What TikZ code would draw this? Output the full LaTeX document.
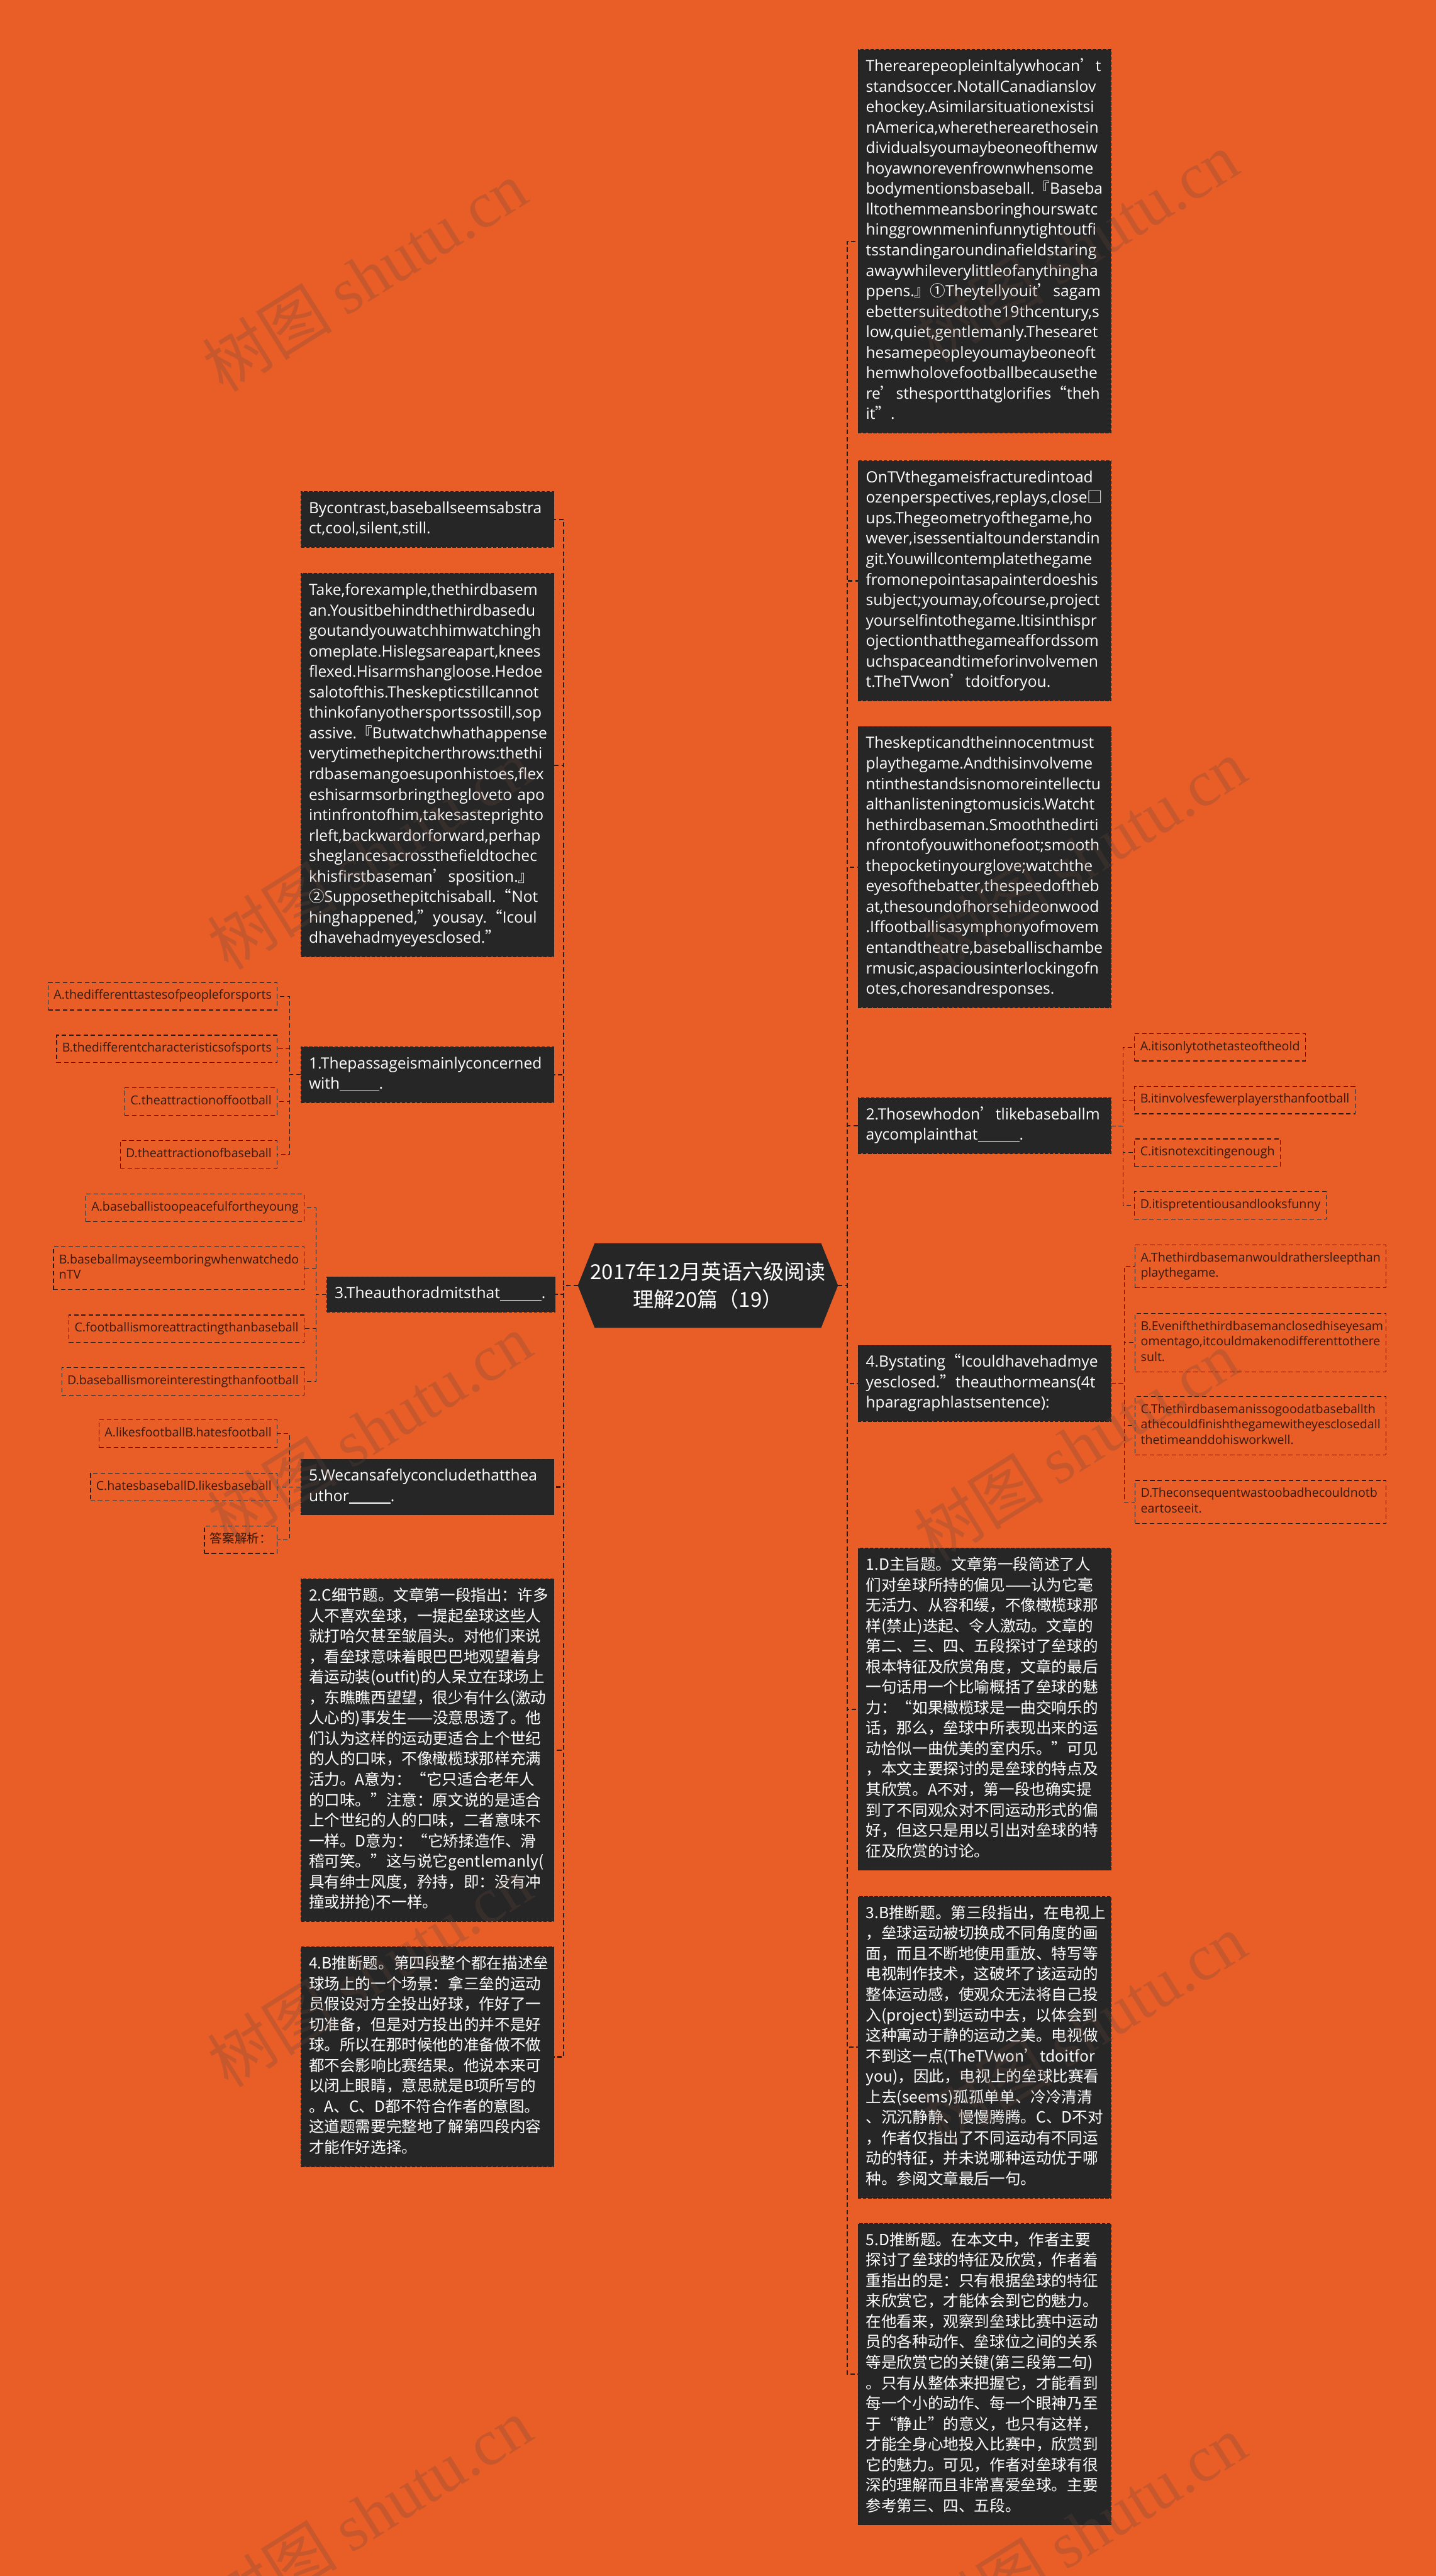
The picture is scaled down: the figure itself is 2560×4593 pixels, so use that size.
\documentclass[tikz,border=0pt]{standalone}
\usepackage{fontspec}
\setmainfont{Open Sans}
\newfontfamily\cjk{Noto Sans CJK SC}
\newfontfamily\wmserif{Liberation Serif}
\usetikzlibrary{backgrounds}
\hyphenpenalty=10000
\exhyphenpenalty=10000
\hbadness=10000
\hfuzz=300pt
\newcommand\zc[1]{{\cjk #1}}
\newcommand\blank[1]{\rule[-2pt]{#1}{0.8pt}}
\definecolor{bgc}{RGB}{233,94,39}
\definecolor{boxc}{RGB}{38,38,38}
\definecolor{linec}{RGB}{45,28,20}
\definecolor{optc}{RGB}{55,26,14}
\definecolor{wmc}{RGB}{100,70,60}
\begin{document}
\begin{tikzpicture}[x=0.5pt,y=-0.5pt,
 en/.style={anchor=north west, fill=boxc, draw=linec, dash pattern=on 3pt off 1.5pt, line width=0.6pt, text=white, inner xsep=7pt, inner ysep=6.6pt, text width=211.5pt, align=left, font=\fontsize{13.8}{18.25}\selectfont, execute at begin node=\strut, execute at end node=\strut},
 zh/.style={en, font=\cjk\fontsize{13.8}{18.25}\selectfont},
 opt/.style={draw=linec, dash pattern=on 4pt off 2.5pt, line width=0.7pt, text=optc, inner xsep=5pt, inner ysep=5.4pt, align=left, font=\fontsize{11}{13.75}\selectfont, execute at begin node=\strut, execute at end node=\strut},
 optl/.style={opt, anchor=north east},
 optr/.style={opt, anchor=north west},
 trunk/.style={draw=linec, line width=1.2pt, dash pattern=on 4pt off 2.5pt},
 sub/.style={draw=linec, line width=0.6pt, dash pattern=on 4pt off 2.5pt},
 wm/.style={rotate=32, text=wmc, opacity=0.25, font=\cjk\fontsize{58}{58}\selectfont}
]
\useasboundingbox (0,0) rectangle (2560,4593);
% ---------- root
\node[font=\cjk\fontsize{18.5}{25}\selectfont, text=white, align=center, minimum width=231.5pt, minimum height=75pt, inner sep=0pt] (root) at (1262,2292) {2017年12月英语六级阅读\\理解20篇（19）};
% ---------- trunk coordinates
\coordinate (ltr) at (1005,0);
\coordinate (rtr) at (1510,0);
\coordinate (q1t) at (516,0);
\coordinate (q3t) at (563,0);
\coordinate (q5t) at (516,0);
\coordinate (q2t) at (2002,0);
\coordinate (q4t) at (2004,0);
% ---------- right column
\node[en] (R1) at (1529,88) {TherearepeopleinItalywhocan\zc{’}t\\
standsoccer.NotallCanadianslov\\
ehockey.Asimilarsituationexistsi\\
nAmerica,wheretherearethosein\\
dividualsyoumaybeoneofthemw\\
hoyawnorevenfrownwhensome\\
bodymentionsbaseball.\zc{『}Baseba\\
lltothemmeansboringhourswatc\\
hinggrownmeninfunnytightoutfi\\
tsstandingaroundinafieldstaring\\
awaywhileverylittleofanythingha\\
ppens.\zc{』①}Theytellyouit\zc{’}sagam\\
ebettersuitedtothe19thcentury,s\\
low,quiet,gentlemanly.Thesearet\\
hesamepeopleyoumaybeoneoft\\
hemwholovefootballbecausethe\\
re\zc{’}sthesportthatglorifies\zc{“}theh\\
it\zc{”}.};
\node[en] (R2) at (1529,821) {OnTVthegameisfracturedintoad\\
ozenperspectives,replays,close\zc{□}\\
ups.Thegeometryofthegame,ho\\
wever,isessentialtounderstandin\\
git.Youwillcontemplatethegame\\
fromonepointasapainterdoeshis\\
subject;youmay,ofcourse,project\\
yourselfintothegame.Itisinthispr\\
ojectionthatthegameaffordssom\\
uchspaceandtimeforinvolvemen\\
t.TheTVwon\zc{’}tdoitforyou.};
\node[en] (R3) at (1529,1295) {Theskepticandtheinnocentmust\\
playthegame.Andthisinvolveme\\
ntinthestandsisnomoreintellectu\\
althanlisteningtomusicis.Watcht\\
hethirdbaseman.Smooththedirti\\
nfrontofyouwithonefoot;smooth\\
thepocketinyourglove;watchthe\\
eyesofthebatter,thespeedoftheb\\
at,thesoundofhorsehideonwood\\
.Iffootballisasymphonyofmovem\\
entandtheatre,baseballischambe\\
rmusic,aspaciousinterlockingofn\\
otes,choresandresponses.};
\node[en] (Q2) at (1529,1957) {2.Thosewhodon\zc{’}tlikebaseballm\\aycomplainthat\blank{37pt}.};
\node[en] (Q4) at (1529,2398) {4.Bystating\zc{“}Icouldhavehadmye\\yesclosed.\zc{”}theauthormeans(4t\\hparagraphlastsentence):};
\node[zh] (E1) at (1529,2760) {1.D主旨题。文章第一段简述了人\\
们对垒球所持的偏见——认为它毫\\
无活力、从容和缓，不像橄榄球那\\
样(禁止)迭起、令人激动。文章的\\
第二、三、四、五段探讨了垒球的\\
根本特征及欣赏角度，文章的最后\\
一句话用一个比喻概括了垒球的魅\\
力：“如果橄榄球是一曲交响乐的\\
话，那么，垒球中所表现出来的运\\
动恰似一曲优美的室内乐。”可见\\
，本文主要探讨的是垒球的特点及\\
其欣赏。A不对，第一段也确实提\\
到了不同观众对不同运动形式的偏\\
好，但这只是用以引出对垒球的特\\
征及欣赏的讨论。};
\node[zh] (E3) at (1529,3381) {3.B推断题。第三段指出，在电视上\\
，垒球运动被切换成不同角度的画\\
面，而且不断地使用重放、特写等\\
电视制作技术，这破坏了该运动的\\
整体运动感，使观众无法将自己投\\
入(project)到运动中去，以体会到\\
这种寓动于静的运动之美。电视做\\
不到这一点(TheTVwon’tdoitfor\\
you)，因此，电视上的垒球比赛看\\
上去(seems)孤孤单单、冷冷清清\\
、沉沉静静、慢慢腾腾。C、D不对\\
，作者仅指出了不同运动有不同运\\
动的特征，并未说哪种运动优于哪\\
种。参阅文章最后一句。};
\node[zh] (E5) at (1529,3964) {5.D推断题。在本文中，作者主要\\
探讨了垒球的特征及欣赏，作者着\\
重指出的是：只有根据垒球的特征\\
来欣赏它，才能体会到它的魅力。\\
在他看来，观察到垒球比赛中运动\\
员的各种动作、垒球位之间的关系\\
等是欣赏它的关键(第三段第二句)\\
。只有从整体来把握它，才能看到\\
每一个小的动作、每一个眼神乃至\\
于“静止”的意义，也只有这样，\\
才能全身心地投入比赛中，欣赏到\\
它的魅力。可见，作者对垒球有很\\
深的理解而且非常喜爱垒球。主要\\
参考第三、四、五段。};
% ---------- left column
\node[en] (L1) at (536,876) {Bycontrast,baseballseemsabstra\\ct,cool,silent,still.};
\node[en] (L2) at (536,1022) {Take,forexample,thethirdbasem\\
an.Yousitbehindthethirdbasedu\\
goutandyouwatchhimwatchingh\\
omeplate.Hislegsareapart,knees\\
flexed.Hisarmshangloose.Hedoe\\
salotofthis.Theskepticstillcannot\\
thinkofanyothersportssostill,sop\\
assive.\zc{『}Butwatchwhathappense\\
verytimethepitcherthrows:thethi\\
rdbasemangoesuponhistoes,flex\\
eshisarmsorbringthegloveto apo\\
intinfrontofhim,takesasteprighto\\
rleft,backwardorforward,perhap\\
sheglancesacrossthefieldtochec\\
khisfirstbaseman\zc{’}sposition.\zc{』}\\
\zc{②}Supposethepitchisaball.\zc{“}Not\\
hinghappened,\zc{”}yousay.\zc{“}Icoul\\
dhavehadmyeyesclosed.\zc{”}};
\node[en] (Q1) at (536,1866) {1.Thepassageismainlyconcerned\\with\blank{35pt}.};
\node[en, text width=189.5pt] (Q3) at (582,2276) {3.Theauthoradmitsthat\blank{37pt}.};
\node[en] (Q5) at (536,2601) {5.Wecansafelyconcludethatthea\\uthor\blank{37pt}.};
\node[zh] (E2) at (536,2815) {2.C细节题。文章第一段指出：许多\\
人不喜欢垒球，一提起垒球这些人\\
就打哈欠甚至皱眉头。对他们来说\\
，看垒球意味着眼巴巴地观望着身\\
着运动装(outfit)的人呆立在球场上\\
，东瞧瞧西望望，很少有什么(激动\\
人心的)事发生——没意思透了。他\\
们认为这样的运动更适合上个世纪\\
的人的口味，不像橄榄球那样充满\\
活力。A意为：“它只适合老年人\\
的口味。”注意：原文说的是适合\\
上个世纪的人的口味，二者意味不\\
一样。D意为：“它矫揉造作、滑\\
稽可笑。”这与说它gentlemanly(\\
具有绅士风度，矜持，即：没有冲\\
撞或拼抢)不一样。};
\node[zh] (E4) at (536,3471) {4.B推断题。第四段整个都在描述垒\\
球场上的一个场景：拿三垒的运动\\
员假设对方全投出好球，作好了一\\
切准备，但是对方投出的并不是好\\
球。所以在那时候他的准备做不做\\
都不会影响比赛结果。他说本来可\\
以闭上眼睛，意思就是B项所写的\\
。A、C、D都不符合作者的意图。\\
这道题需要完整地了解第四段内容\\
才能作好选择。};
% ---------- options
\node[optl] (Q1A) at (495,1751) {A.thedifferenttastesofpeopleforsports};
\node[optl] (Q1B) at (495,1845) {B.thedifferentcharacteristicsofsports};
\node[optl] (Q1C) at (495,1939) {C.theattractionoffootball};
\node[optl] (Q1D) at (495,2033) {D.theattractionofbaseball};
\node[optl] (Q3A) at (543,2128) {A.baseballistoopeacefulfortheyoung};
\node[optl, text width=213.5pt] (Q3B) at (543,2222) {B.baseballmayseemboringwhenwatchedo\\nTV};
\node[optl] (Q3C) at (543,2344) {C.footballismoreattractingthanbaseball};
\node[optl] (Q3D) at (543,2438) {D.baseballismoreinterestingthanfootball};
\node[optl] (Q5A) at (495,2531) {A.likesfootballB.hatesfootball};
\node[optl] (Q5C) at (495,2626) {C.hatesbaseballD.likesbaseball};
\node[optl] (Q5N) at (495,2720) {\zc{答案解析：}};
\node[optr] (Q2A) at (2022,1842) {A.itisonlytothetasteoftheold};
\node[optr] (Q2B) at (2022,1936) {B.itinvolvesfewerplayersthanfootball};
\node[optr] (Q2C) at (2022,2030) {C.itisnotexcitingenough};
\node[optr] (Q2D) at (2022,2124) {D.itispretentiousandlooksfunny};
\node[optr, text width=213.5pt] (Q4A) at (2023,2219) {A.Thethirdbasemanwouldrathersleepthan\\playthegame.};
\node[optr, text width=213.5pt] (Q4B) at (2023,2341) {B.Evenifthethirdbasemanclosedhiseyesam\\omentago,itcouldmakenodifferenttothere\\sult.};
\node[optr, text width=213.5pt] (Q4C) at (2023,2489) {C.Thethirdbasemanissogoodatbaseballth\\athecouldfinishthegamewitheyesclosedall\\thetimeanddohisworkwell.};
\node[optr, text width=213.5pt] (Q4D) at (2023,2639) {D.Theconsequentwastoobadhecouldnotb\\eartoseeit.};
% ---------- background + root shape
\begin{scope}[on background layer]
\fill[bgc] (0,0) rectangle (2560,4593);
\fill[boxc] (root.west) -- ([xshift=15pt]root.north west) -- ([xshift=-15pt]root.north east) -- (root.east) -- ([xshift=-15pt]root.south east) -- ([xshift=15pt]root.south west) -- cycle;
\end{scope}
% ---------- connectors
\foreach \c in {L1,L2,Q1,Q3,Q5,E2,E4} \draw[trunk] (root.west) -- (root.west -| ltr) |- (\c.east);
\foreach \c in {R1,R2,R3,Q2,Q4,E1,E3,E5} \draw[trunk] (root.east) -- (root.east -| rtr) |- (\c.west);
\foreach \c in {Q1A,Q1B,Q1C,Q1D} \draw[sub] (Q1.west) -- (Q1.west -| q1t) |- (\c.east);
\foreach \c in {Q3A,Q3B,Q3C,Q3D} \draw[sub] (Q3.west) -- (Q3.west -| q3t) |- (\c.east);
\foreach \c in {Q5A,Q5C,Q5N} \draw[sub] (Q5.west) -- (Q5.west -| q5t) |- (\c.east);
\foreach \c in {Q2A,Q2B,Q2C,Q2D} \draw[sub] (Q2.east) -- (Q2.east -| q2t) |- (\c.west);
\foreach \c in {Q4A,Q4B,Q4C,Q4D} \draw[sub] (Q4.east) -- (Q4.east -| q4t) |- (\c.west);
% ---------- watermarks
\node[wm] (w1) at (650,492) {树图 {\wmserif shutu.cn}};
\node[wm] (w2) at (1918,440) {树图 {\wmserif shutu.cn}};
\node[wm] (w3) at (659,1523) {树图 {\wmserif shutu.cn}};
\node[wm] (w4) at (1933,1523) {树图 {\wmserif shutu.cn}};
\node[wm] (w5) at (659,2548) {树图 {\wmserif shutu.cn}};
\node[wm] (w6) at (1918,2578) {树图 {\wmserif shutu.cn}};
\node[wm] (w7) at (659,3515) {树图 {\wmserif shutu.cn}};
\node[wm] (w8) at (1933,3617) {树图 {\wmserif shutu.cn}};
\node[wm] (w9) at (659,4481) {树图 {\wmserif shutu.cn}};
\node[wm] (w10) at (1933,4511) {树图 {\wmserif shutu.cn}};
\end{tikzpicture}
\end{document}
